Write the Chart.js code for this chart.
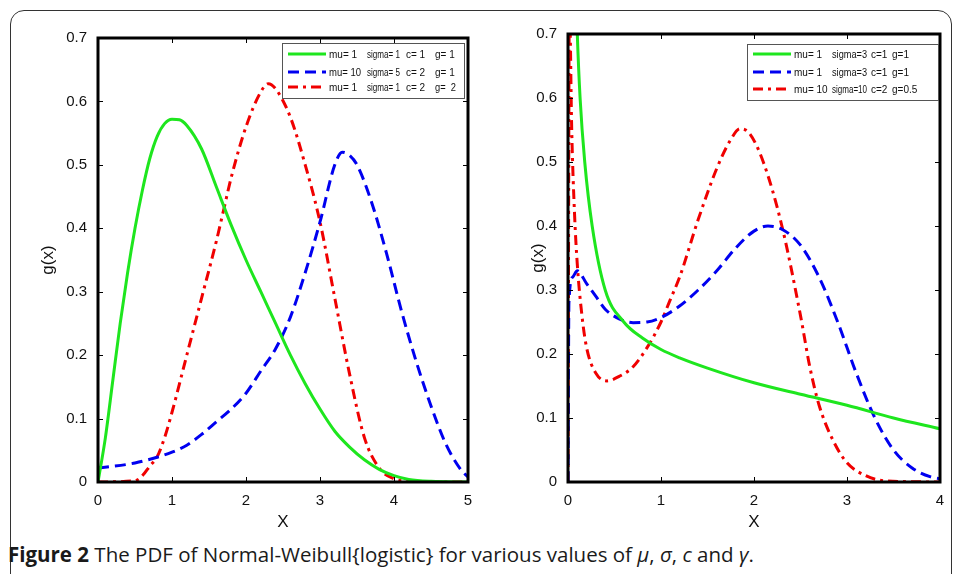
<!DOCTYPE html>
<html>
<head>
<meta charset="utf-8">
<script src="https://cdn.jsdelivr.net/npm/chart.js@4.4.1/dist/chart.umd.min.js"></script>
<style>
body { margin: 0; background: #fff; width: 958px; height: 574px; overflow: hidden; position: relative; }
#frame { position: absolute; left: 10px; top: 10px; width: 940px; height: 620px; border: 1.5px solid #333; border-radius: 14px; }
.wrap { position: absolute; top: 0; }
#caption { position: absolute; left: 8px; top: 540px; font-family: "Open Sans", sans-serif; font-size: 20.5px; color: #1a1a1a; white-space: nowrap; }
#caption b { font-weight: 700; }
</style>
</head>
<body>
<div id="frame"></div>
<div class="wrap" style="left:0;"><canvas id="leftChart" width="490" height="540"></canvas></div>
<div class="wrap" style="left:490px;"><canvas id="rightChart" width="468" height="540"></canvas></div>
<div id="caption"><b>Figure 2</b> The PDF of Normal-Weibull{logistic} for various values of <i>μ</i>, <i>σ</i>, <i>c</i> and <i>γ</i>.</div>
<script>
// left panel
const leftGreenX = [0, 0.1, 0.2, 0.3, 0.4, 0.5, 0.6, 0.7, 0.8, 0.9, 1.0, 1.1, 1.2, 1.4, 1.6, 1.8, 2.0, 2.2, 2.4, 2.6, 2.8, 3.0, 3.2, 3.4, 3.6, 3.8, 4.0, 4.2, 4.5, 5.0];
const leftGreenY = [0, 0.07, 0.16, 0.25, 0.33, 0.40, 0.46, 0.51, 0.545, 0.565, 0.572, 0.571, 0.562, 0.525, 0.465, 0.405, 0.35, 0.30, 0.25, 0.20, 0.155, 0.115, 0.08, 0.055, 0.035, 0.02, 0.01, 0.004, 0.001, 0];
const leftBlueX = [0, 0.5, 1.0, 1.2, 1.4, 1.6, 1.8, 2.0, 2.2, 2.4, 2.6, 2.8, 3.0, 3.2, 3.3, 3.4, 3.5, 3.7, 3.9, 4.1, 4.3, 4.5, 4.7, 4.9, 5.0];
const leftBlueY = [0.022, 0.03, 0.047, 0.058, 0.075, 0.095, 0.115, 0.14, 0.175, 0.21, 0.26, 0.33, 0.41, 0.50, 0.52, 0.515, 0.50, 0.44, 0.36, 0.27, 0.19, 0.12, 0.06, 0.02, 0.008];
const leftRedX = [0, 0.5, 0.6, 0.7, 0.8, 0.9, 1.0, 1.2, 1.4, 1.6, 1.7, 1.8, 2.0, 2.2, 2.3, 2.4, 2.6, 2.8, 3.0, 3.2, 3.4, 3.6, 3.8, 4.0, 4.2, 4.5, 5.0];
const leftRedY = [0, 0.002, 0.01, 0.025, 0.04, 0.07, 0.11, 0.20, 0.29, 0.38, 0.43, 0.48, 0.56, 0.615, 0.628, 0.62, 0.575, 0.50, 0.41, 0.29, 0.17, 0.07, 0.022, 0.005, 0.001, 0, 0];
const leftLabels = ['mu= 1|sigma= 1|c= 1|g= 1', 'mu= 10|sigma= 5|c= 2|g= 1', 'mu= 1|sigma= 1|c= 2|g=  2'];

// right panel
const rightGreenX = [0.08, 0.1, 0.13, 0.18, 0.26, 0.4, 0.6, 0.8, 1.0, 1.2, 1.5, 2.0, 2.5, 3.0, 3.5, 4.0];
const rightGreenY = [0.8, 0.7, 0.6, 0.5, 0.4, 0.3, 0.25, 0.225, 0.207, 0.194, 0.178, 0.155, 0.137, 0.12, 0.1, 0.083];
const rightBlueX = [0, 0.01, 0.05, 0.1, 0.2, 0.3, 0.4, 0.55, 0.7, 0.85, 1.0, 1.2, 1.4, 1.6, 1.8, 2.0, 2.15, 2.3, 2.5, 2.7, 2.9, 3.1, 3.3, 3.5, 3.7, 3.9, 4.0];
const rightBlueY = [0, 0.28, 0.32, 0.33, 0.31, 0.29, 0.27, 0.255, 0.249, 0.25, 0.257, 0.275, 0.30, 0.33, 0.365, 0.392, 0.40, 0.395, 0.37, 0.32, 0.25, 0.17, 0.10, 0.05, 0.022, 0.008, 0.005];
const rightRedX = [0, 0.015, 0.04, 0.07, 0.1, 0.15, 0.2, 0.3, 0.42, 0.55, 0.7, 0.85, 1.0, 1.1, 1.2, 1.4, 1.6, 1.75, 1.85, 1.95, 2.1, 2.3, 2.5, 2.6, 2.7, 2.85, 3.0, 3.2, 3.4, 4.0];
const rightRedY = [0, 0.75, 0.55, 0.42, 0.34, 0.26, 0.21, 0.17, 0.158, 0.165, 0.18, 0.21, 0.25, 0.285, 0.32, 0.41, 0.49, 0.535, 0.552, 0.545, 0.50, 0.40, 0.26, 0.18, 0.12, 0.065, 0.03, 0.01, 0.002, 0];
const rightLabels = ['mu= 1|sigma=3|c=1|g=1', 'mu= 1|sigma=3|c=1|g=1', 'mu= 10|sigma=10|c=2|g=0.5'];

const yTicks = [0, 0.1, 0.2, 0.3, 0.4, 0.5, 0.6, 0.7];

const GREEN = '#1ee61e';
const BLUE = '#0000f0';
const RED = '#f00000';
const FONT = 'Arial, "Liberation Sans", sans-serif';

function pts(xs, ys) {
    return xs.map((x, i) => ({ x: x, y: ys[i] }));
}

function line(ctx, x1, y1, x2, y2) {
    ctx.beginPath();
    ctx.moveTo(x1, y1);
    ctx.lineTo(x2, y2);
    ctx.stroke();
}

// MATLAB style box, inner ticks, axis titles and legend
const matlabAxes = {
    id: 'matlabAxes',
    afterDraw(chart, args, opts) {
        const ctx = chart.ctx;
        const a = chart.chartArea;
        const xs = chart.scales.x;
        const ys = chart.scales.y;
        ctx.save();
        ctx.strokeStyle = '#000';
        ctx.lineWidth = 1;
        xs.ticks.forEach(t => {
            const px = Math.round(xs.getPixelForValue(t.value)) + 0.5;
            line(ctx, px, a.bottom, px, a.bottom - 5);
            line(ctx, px, a.top, px, a.top + 5);
        });
        ys.ticks.forEach(t => {
            const py = Math.round(ys.getPixelForValue(t.value)) + 0.5;
            line(ctx, a.left, py, a.left + 5, py);
            line(ctx, a.right, py, a.right - 5, py);
        });
        ctx.lineWidth = 3;
        ctx.strokeRect(a.left, a.top, a.right - a.left, a.bottom - a.top);

        ctx.fillStyle = '#111';
        ctx.font = '17px ' + FONT;
        ctx.textAlign = 'center';
        ctx.textBaseline = 'middle';
        ctx.fillText('X', (a.left + a.right) / 2, a.bottom + 40);
        ctx.save();
        ctx.translate(a.left - opts.ytitleOffset, (a.top + a.bottom) / 2);
        ctx.rotate(-Math.PI / 2);
        ctx.fillText('g(x)', 0, 0);
        ctx.restore();

        // legend box
        const lg = opts.legend;
        const bx = lg.left, by = lg.top, bw = lg.width, bh = lg.height;
        ctx.fillStyle = '#fff';
        ctx.fillRect(bx, by, bw, bh);
        ctx.lineWidth = 1;
        ctx.strokeStyle = '#555';
        ctx.strokeRect(bx + 0.5, by + 0.5, bw, bh);
        ctx.font = '10px ' + FONT;
        ctx.textAlign = 'left';
        chart.data.datasets.forEach((ds, i) => {
            const ry = by + lg.rows[i];
            ctx.strokeStyle = ds.borderColor;
            ctx.lineWidth = 3;
            ctx.setLineDash(ds.borderDash || []);
            line(ctx, bx + 6, ry, bx + 44, ry);
            ctx.setLineDash([]);
            ctx.fillStyle = '#111';
            ds.label.split('|').forEach((part, j) => {
                const next = j + 1 < lg.cols.length ? lg.cols[j + 1] : bw - 2;
                ctx.fillText(part, bx + lg.cols[j], ry + 1, next - lg.cols[j] - lg.gap);
            });
        });
        ctx.restore();
    }
};

function makeDatasets(g, b, r, labels) {
    return [
        { label: labels[0], data: g, borderColor: GREEN, borderWidth: 3 },
        { label: labels[1], data: b, borderColor: BLUE, borderWidth: 3, borderDash: [11, 6] },
        { label: labels[2], data: r, borderColor: RED, borderWidth: 3, borderDash: [10, 5, 3, 5] }
    ];
}

function makeChart(id, datasets, xMax, yWidth, padding, legend) {
    const tickFont = { family: FONT, size: 15 };
    return new Chart(document.getElementById(id), {
        type: 'line',
        data: { datasets: datasets },
        options: {
            responsive: false,
            animation: false,
            devicePixelRatio: 1,
            layout: { padding: padding },
            elements: { point: { radius: 0 }, line: { cubicInterpolationMode: 'monotone' } },
            plugins: {
                legend: { display: false },
                tooltip: { enabled: false },
                matlabAxes: { legend: legend, ytitleOffset: yWidth - 48 }
            },
            scales: {
                x: {
                    type: 'linear', min: 0, max: xMax,
                    grid: { display: false },
                    border: { display: false },
                    ticks: { stepSize: 1, color: '#111', font: tickFont, padding: 2, maxRotation: 0 },
                    afterFit: s => { s.height = 58; }
                },
                y: {
                    min: 0, max: 0.7,
                    grid: { display: false },
                    border: { display: false },
                    afterBuildTicks: s => { s.ticks = yTicks.map(v => ({ value: v })); },
                    ticks: { color: '#111', font: tickFont, padding: 3, callback: v => v === 0 ? '0' : v.toFixed(1) },
                    afterFit: s => { s.width = yWidth; }
                }
            }
        },
        plugins: [matlabAxes]
    });
}

makeChart('leftChart',
    makeDatasets(pts(leftGreenX, leftGreenY), pts(leftBlueX, leftBlueY), pts(leftRedX, leftRedY), leftLabels),
    5, 98, { top: 38, right: 22, left: 0, bottom: 0 },
    { left: 282, top: 43, width: 182, height: 55, rows: [11, 29, 44], cols: [47, 85, 124, 153], gap: 6 });

makeChart('rightChart',
    makeDatasets(pts(rightGreenX, rightGreenY), pts(rightBlueX, rightBlueY), pts(rightRedX, rightRedY), rightLabels),
    4, 78, { top: 34, right: 18, left: 0, bottom: 0 },
    { left: 257, top: 44, width: 191, height: 56, rows: [10, 28, 45], cols: [47, 85, 124, 145], gap: 4 });
</script>
</body>
</html>
